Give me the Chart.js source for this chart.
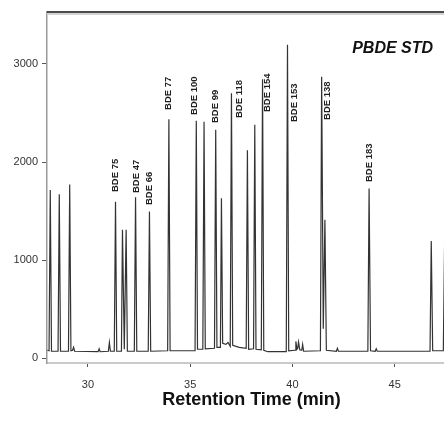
<!DOCTYPE html>
<html>
<head>
<meta charset="utf-8">
<script src="https://cdn.jsdelivr.net/npm/chart.js@4/dist/chart.umd.min.js"></script>
<style>
  html, body { margin: 0; padding: 0; background: #fff; overflow: hidden; }
  #wrap { width: 444px; height: 423px; overflow: hidden; }
</style>
</head>
<body>
<div id="wrap"><canvas id="chrom" width="456" height="423"></canvas></div>
<script>
// --- chromatogram trace ---
// retention time (min) and detector response, point by point
const retentionTime = [
  28.02, 28.10, 28.16, 28.22,
  28.54, 28.60, 28.66,
  29.05, 29.11, 29.17,
  29.25, 29.30, 29.35,
  30.50, 30.55, 30.60,
  31.00, 31.05, 31.10,
  31.29, 31.35, 31.41,
  31.64, 31.69, 31.78, 31.87, 31.93,
  32.27, 32.33, 32.39,
  32.95, 33.01, 33.07,
  33.90, 33.96, 34.02,
  35.24, 35.30, 35.36,
  35.62, 35.68, 35.74,
  36.19, 36.25, 36.31,
  36.48, 36.53, 36.59, 36.75, 36.85, 36.96, 37.02, 37.08,
  37.40, 37.74, 37.80, 37.86, 38.10, 38.16, 38.22, 38.48, 38.54, 38.60, 38.80,
  39.70, 39.76, 39.82, 40.13, 40.17, 40.22, 40.26, 40.30, 40.36, 40.46, 40.50, 40.55,
  41.37, 41.43, 41.51, 41.59, 41.66,
  42.15, 42.20, 42.25,
  43.69, 43.75, 43.82, 44.05, 44.10, 44.15,
  46.73, 46.79, 46.86, 47.38, 47.44, 47.50, 48.00
];
const response = [
  80, 75, 1715, 70,
  70, 1670, 70,
  70, 1770, 75,
  80, 110, 70,
  65, 95, 65,
  70, 160, 70,
  70, 1595, 70,
  70, 1310, 90, 1310, 70,
  70, 1640, 70,
  70, 1495, 70,
  75, 2435, 75,
  75, 2420, 90,
  90, 2410, 95,
  100, 2330, 110,
  110, 1630, 150, 140, 160, 120, 2700, 130,
  110, 100, 2120, 90, 95, 2380, 90, 85, 2845, 80, 65,
  65, 3195, 75, 80, 170, 90, 100, 165, 85, 80, 140, 70,
  75, 2870, 300, 1410, 80,
  70, 100, 70,
  70, 1730, 75, 70, 95, 70,
  70, 1195, 75, 75, 1135, 300, 70
];

// peak names and where their text starts (time, response)
const peakNames = ['BDE 75', 'BDE 47', 'BDE 66', 'BDE 77', 'BDE 100', 'BDE 99',
                   'BDE 118', 'BDE 154', 'BDE 153', 'BDE 138', 'BDE 183'];
const peakLabelTime = [31.35, 32.35, 32.99, 33.95, 35.22, 36.25, 37.43, 38.76, 40.10, 41.72, 43.77];
const peakLabelLevel = [1694, 1684, 1561, 2531, 2480, 2398, 2449, 2510, 2408, 2429, 1796];

const xTicks = [30, 35, 40, 45];
const yTicks = [0, 1000, 2000, 3000];
const sampleName = 'PBDE STD';

const FONT = '"Liberation Sans", Arial, sans-serif';

// peak names, sample name and the dark top frame line
const notesPlugin = {
  id: 'peakNotes',
  afterDatasetsDraw(chart) {
    const { ctx, chartArea, scales: { x, y } } = chart;
    ctx.save();

    ctx.strokeStyle = '#d4d4d4';
    ctx.lineWidth = 2;
    ctx.beginPath();
    ctx.moveTo(chartArea.left, chartArea.top + 2);
    ctx.lineTo(chartArea.right, chartArea.top + 2);
    ctx.stroke();
    ctx.strokeStyle = '#111';
    ctx.lineWidth = 1.5;
    ctx.beginPath();
    ctx.moveTo(chartArea.left, chartArea.top);
    ctx.lineTo(chartArea.right, chartArea.top);
    ctx.stroke();

    ctx.font = 'bold 9.5px ' + FONT;
    ctx.fillStyle = '#1e1e1e';
    ctx.textAlign = 'left';
    ctx.textBaseline = 'middle';
    peakNames.forEach((name, i) => {
      const px = x.getPixelForValue(peakLabelTime[i]);
      const py = y.getPixelForValue(peakLabelLevel[i]);
      ctx.save();
      ctx.translate(px, py);
      ctx.rotate(-Math.PI / 2);
      ctx.fillText(name, 0, 0);
      ctx.restore();
    });

    ctx.font = 'italic bold 16px ' + FONT;
    ctx.fillStyle = '#111';
    ctx.textAlign = 'center';
    ctx.fillText(sampleName, x.getPixelForValue(44.9), y.getPixelForValue(3160));
    ctx.restore();
  }
};

new Chart(document.getElementById('chrom'), {
  type: 'line',
  data: {
    datasets: [{
      data: retentionTime.map((t, i) => ({ x: t, y: response[i] })),
      borderColor: '#333',
      borderWidth: 1.2,
      pointRadius: 0,
      tension: 0,
      fill: false
    }]
  },
  options: {
    responsive: false,
    animation: false,
    layout: { padding: { top: 12, right: 0, bottom: 0, left: 0 } },
    plugins: { legend: { display: false }, tooltip: { enabled: false } },
    scales: {
      x: {
        type: 'linear',
        min: 28,
        max: 48,
        afterBuildTicks: s => { s.ticks = xTicks.map(v => ({ value: v })); },
        afterFit: s => { s.height = 60; },
        border: { color: '#cacaca', width: 2 },
        grid: { drawOnChartArea: false, drawTicks: true, tickLength: 4, tickColor: '#555' },
        ticks: { color: '#333', padding: 11, font: { family: FONT, size: 11 }, maxRotation: 0,
                 callback: v => String(v) },
        title: {
          display: true,
          text: 'Retention Time (min)',
          color: '#111',
          font: { family: FONT, size: 18, weight: 'bold', lineHeight: 1.2 },
          padding: { top: 0, bottom: 12 }
        }
      },
      y: {
        min: -50,
        max: 3530,
        afterBuildTicks: s => { s.ticks = yTicks.map(v => ({ value: v })); },
        afterFit: s => { s.width = 47; },
        border: { color: '#999', width: 1.5 },
        grid: { drawOnChartArea: false, drawTicks: true, tickLength: 5, tickColor: '#555' },
        ticks: { color: '#333', padding: 4, font: { family: FONT, size: 11 },
                 callback: v => String(v) }
      }
    }
  },
  plugins: [notesPlugin]
});
</script>
</body>
</html>
